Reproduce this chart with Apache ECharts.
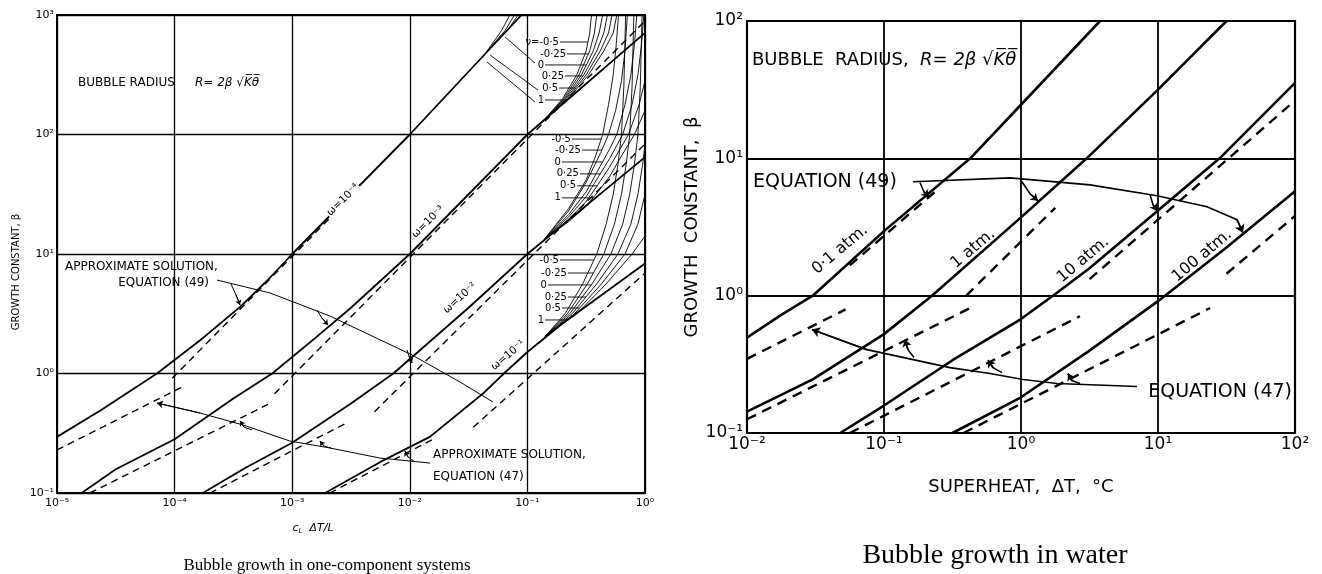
<!DOCTYPE html>
<html>
<head>
<meta charset="utf-8">
<script src="https://cdn.jsdelivr.net/npm/echarts/dist/echarts.min.js"></script>
<style>html,body{margin:0;padding:0;background:#fff}#c{width:1322px;height:574px}</style>
</head>
<body>
<div id="c"></div>
<script>
// ================= LEFT CHART: Bubble growth in one-component systems =================
const leftXTicks = ['10⁻⁵','10⁻⁴','10⁻³','10⁻²','10⁻¹','10⁰'];
const leftYTicks = ['10⁻¹','10⁰','10¹','10²','10³'];
const omegaLabels = ['ω=10⁻⁴','ω=10⁻³','ω=10⁻²','ω=10⁻¹'];
const nuLabels = ['-0·5','-0·25','0','0·25','0·5','1'];

// exact solutions [cL ΔT/L, β]
const mainW4 = [[1e-5,0.295],[2.34e-5,0.49],[7.08e-5,1],[1.66e-4,1.905],[3.63e-4,3.63],[6.17e-4,6.03],[1e-3,10],[1e-2,100],[0.0891,1000]];
const mainW3 = [[1.62e-5,0.1],[3.16e-5,0.158],[1e-4,0.282],[3.16e-4,0.617],[6.76e-4,1],[1.585e-3,1.995],[3.16e-3,3.55],[0.01,10],[0.1,100],[1,708]];
const mainW2 = [[1.74e-4,0.1],[3.98e-4,0.162],[1e-3,0.263],[3.16e-3,0.562],[7.24e-3,1],[0.0316,3.55],[0.1,10],[1,64.6]];
const mainW1 = [[1.905e-3,0.1],[5.62e-3,0.182],[0.0148,0.295],[0.0417,0.676],[0.0631,1],[0.1,1.514],[0.2,2.63],[1,8.32]];

// approximate solution, equation (47)
const eq47W4 = [[1e-5,0.229],[1.175e-4,0.776]];
const eq47W3 = [[1.905e-5,0.1],[6.46e-4,0.562]];
const eq47W2 = [[2.0e-4,0.1],[2.95e-3,0.389]];
const eq47W1 = [[2.09e-3,0.1],[0.0158,0.282]];
// approximate solution, equation (49)
const eq49W4 = [[9.55e-5,0.912],[3.16e-3,30.2]];
const eq49W3 = [[7.08e-4,0.676],[0.282,257],[1,891]];
const eq49W2 = [[5.01e-3,0.479],[1,83.2]];
const eq49W1 = [[0.0347,0.355],[1,6.92]];

// ν fans at high cL ΔT/L
const fanW4 = [
  [[0.0447,490],[0.0603,741],[0.0708,1000]],
  [[0.0447,490],[0.0646,741],[0.0776,1000]],
  [[0.0447,490],[0.0676,741],[0.0832,1000]]
];
const fanW3 = [
  [[0.1413,134.9],[0.1995,199.5],[0.263,316.2],[0.3162,501.2],[0.3388,707.9],[0.3508,1000]],
  [[0.1413,134.9],[0.2042,199.5],[0.2754,316.2],[0.3388,501.2],[0.3715,707.9],[0.389,1000]],
  [[0.1413,134.9],[0.2089,199.5],[0.2884,316.2],[0.3631,501.2],[0.4074,707.9],[0.4365,1000]],
  [[0.1413,134.9],[0.2138,199.5],[0.302,316.2],[0.389,501.2],[0.4467,707.9],[0.4786,1000]],
  [[0.1413,134.9],[0.2188,199.5],[0.3162,316.2],[0.4169,501.2],[0.4898,707.9],[0.5248,1000]],
  [[0.1413,134.9],[0.2239,199.5],[0.3311,316.2],[0.4467,501.2],[0.537,707.9],[0.5754,1000]]
];
const fanW2 = [
  [[0.1413,13.49],[0.2239,23.99],[0.3162,41.69],[0.3802,66.07],[0.4365,100],[0.4898,177.8],[0.537,316.2],[0.5689,562.3],[0.5957,1000]],
  [[0.1413,13.49],[0.2239,22.91],[0.3162,39.81],[0.4169,69.18],[0.4898,100],[0.5623,158.5],[0.631,281.8],[0.6761,501.2],[0.7079,1000]],
  [[0.1413,13.49],[0.2239,21.38],[0.3162,33.11],[0.3981,50.12],[0.5012,75.86],[0.5754,100],[0.6761,177.8],[0.7586,316.2],[0.8128,562.3],[0.8511,1000]],
  [[0.1413,13.49],[0.2239,20.42],[0.3162,30.2],[0.3981,43.65],[0.5012,63.1],[0.6457,100],[0.7762,177.8],[0.871,316.2],[0.9333,562.3],[0.9772,1000]],
  [[0.1413,13.49],[0.2239,19.5],[0.3162,27.54],[0.3981,38.02],[0.5012,53.7],[0.7244,100],[0.8913,177.8],[1,281.8]],
  [[0.1413,13.49],[0.2239,18.62],[0.3162,25.12],[0.3981,33.11],[0.5012,44.67],[0.631,66.07],[0.8128,100],[1,158.5]]
];
const fanW1 = [
  [[0.1413,2.042],[0.2089,3.162],[0.2951,5.623],[0.389,10],[0.4677,17.78],[0.537,31.62],[0.5888,56.23],[0.631,100],[0.661,251],[0.684,1000]],
  [[0.1413,2.042],[0.2188,3.162],[0.3236,5.623],[0.4467,10],[0.5495,17.78],[0.631,31.62],[0.6918,56.23],[0.7413,100],[0.7762,251],[0.8035,1000]],
  [[0.1413,2.042],[0.2291,3.162],[0.3548,5.623],[0.5129,10],[0.6457,17.78],[0.7413,31.62],[0.8128,56.23],[0.871,100],[0.912,251],[0.944,1000]],
  [[0.1413,2.042],[0.2399,3.162],[0.389,5.623],[0.5888,10],[0.7586,17.78],[0.871,31.62],[0.955,56.23],[1.023,100]],
  [[0.1413,2.042],[0.2512,3.162],[0.4266,5.623],[0.6761,10],[0.871,17.78],[1,31.62]],
  [[0.1413,2.042],[0.263,3.162],[0.4677,5.623],[0.7762,10],[1,14.13]]
];
// ν label anchors: [leader start x, leader end x, β]
const nuAnchorW3 = [[0.1892,0.3273,594.3],[0.2173,0.3296,472.1],[0.1413,0.317,382],[0.2089,0.2951,309],[0.1858,0.2582,244.9],[0.1413,0.2188,194.5]];
const nuAnchorW2 = [[0.2393,0.4236,91.6],[0.2911,0.4295,74.1],[0.1968,0.4355,58.9],[0.2799,0.4159,46.8],[0.2642,0.3917,37.2],[0.1968,0.3614,29.5]];
const nuAnchorW1 = [[0.1892,0.3681,8.913],[0.2213,0.3639,6.934],[0.1496,0.3491,5.508],[0.2213,0.3148,4.365],[0.1968,0.278,3.532],[0.1413,0.2218,2.805]];
const nuLeadersW4 = [[[0.0646,654.6],[0.1161,396.3]],[[0.0481,462.4],[0.123,235.5]],[[0.0453,404.6],[0.1161,187.1]]];
// annotation leaders (data coordinates)
const eq49LeaderL = [[2.296e-4,6.053],[6.47e-4,4.721],[2.094e-3,3.027],[0.01045,1.429],[0.02673,0.849],[0.0509,0.578]];
const eq49HooksL = [[[3.6e-4,3.74],[3.33e-4,4.54],[3.02e-4,5.61]],[[2.014e-3,2.547],[1.791e-3,2.911],[1.626e-3,3.396]],[[0.01045,1.225],[9.84e-3,1.4],[9.46e-3,1.574]]];
const eq47LeaderL = [[7.08e-5,0.566],[1.644e-4,0.467],[3.82e-4,0.371],[9.57e-4,0.272],[2.094e-3,0.238],[5.58e-3,0.196],[0.01486,0.178]];
const eq47HooksL = [[[3.6e-4,0.401],[3.89e-4,0.356],[4.55e-4,0.337]],[[1.722e-3,0.272],[1.862e-3,0.247],[2.138e-3,0.238]],[[9.1e-3,0.2244],[9.66e-3,0.2],[0.01086,0.185]]];
const omegaAnchors = [[2.704e-3,28.31],[0.01429,18.54],[0.02673,4.285],[0.06839,1.42]];

// ================= RIGHT CHART: Bubble growth in water =================
const rightXTicks = ['10⁻²','10⁻¹','10⁰','10¹','10²'];
const rightYTicks = ['10⁻¹','10⁰','10¹','10²'];
const pressureLabels = ['0·1 atm.','1 atm.','10 atm.','100 atm.'];
// exact [ΔT °C, β]
const water01 = [[0.01,0.4955],[0.01778,0.7244],[0.0302,1],[0.1,2.951],[0.4266,10],[1,24.55],[3.776,100]];
const water1 = [[0.01,0.1432],[0.0302,0.2455],[0.1,0.5248],[0.2239,1],[1,3.715],[3.02,10],[10,31.62],[31.62,100]];
const water10 = [[0.04786,0.1],[0.1,0.1585],[0.3162,0.3388],[1,0.6761],[1.82,1.047],[3.162,1.585],[10,4.169],[28.18,10],[100,35.48]];
const water100 = [[0.3162,0.1],[1,0.182],[3.162,0.3981],[10,0.912],[31.62,2.239],[100,5.754]];
const wEq47_01 = [[0.01,0.3467],[0.05248,0.7943]];
const wEq47_1 = [[0.01,0.1259],[0.4467,0.8318]];
const wEq47_10 = [[0.05623,0.1],[2.692,0.7079]];
const wEq47_100 = [[0.3802,0.1],[23.99,0.8128]];
const wEq49_01 = [[0.05623,1.66],[0.2512,6.026]];
const wEq49_1 = [[0.3981,1.0],[1.778,4.365]];
const wEq49_10 = [[3.162,1.318],[100,26.3]];
const wEq49_100 = [[31.62,1.445],[100,3.802]];
const pressureAnchors = [[0.04775,2.163],[0.4467,2.2],[2.838,1.828],[20.94,1.954]];
const eq49LeaderR = [[0.163,6.745],[0.8318,7.211],[3.192,6.412],[9.84,5.333],[22.8,4.436],[37.76,3.573],[41.69,2.871]];
const eq49HooksR = [[[0.2128,5.248],[0.1959,5.702],[0.1832,6.637]],[[1.33,4.909],[1.164,5.521],[1.016,6.745]],[[9.84,4.15],[9.2,4.592],[8.75,5.433]]];
const eq47LeaderR = [[0.02979,0.5662],[0.07516,0.4046],[0.3034,0.2992],[0.5943,0.271],[1.035,0.2449],[1.832,0.2291],[7.031,0.2178]];
const eq47HooksR = [[[0.1422,0.4786],[0.1496,0.4046],[0.1656,0.354]],[[0.5741,0.3388],[0.6252,0.2992],[0.7261,0.2754]],[[2.203,0.271],[2.355,0.241],[2.698,0.2291]]];

// ================= build =================
const INK = '#000000';
const FONT = 'DejaVu Sans';
const S = [];
function curve(gi, data, w, dash) {
  S.push({type:'line', xAxisIndex:gi, yAxisIndex:gi, data:data, symbol:'none', showSymbol:false, silent:true,
    animation:false, clip:true, z:3, lineStyle:{color:INK, width:w, type:dash || 'solid'}});
}
function poly(gi, coords, w) {
  S.push({type:'lines', coordinateSystem:'cartesian2d', xAxisIndex:gi, yAxisIndex:gi, polyline:true, silent:true,
    animation:false, z:4, data:[{coords:coords}], lineStyle:{color:INK, width:w, opacity:1}});
}
function arrow(gi, from, to, w, size) {
  S.push({type:'lines', coordinateSystem:'cartesian2d', xAxisIndex:gi, yAxisIndex:gi, silent:true, animation:false, z:4,
    symbol:['none','arrow'], symbolSize:size || 6, data:[{coords:[from,to]}], lineStyle:{color:INK, width:w, opacity:1}});
}
function lab(o) { return Object.assign({color:INK, fontFamily:FONT, opacity:1, textBorderWidth:0}, o); }
function texts(gi, items) {
  S.push({type:'scatter', xAxisIndex:gi, yAxisIndex:gi, symbolSize:0, itemStyle:{color:INK, opacity:1}, silent:true,
    animation:false, z:6, data:items, label:{show:true, formatter:'{b}', color:INK, fontFamily:FONT}});
}

// ---- left
[mainW4, mainW3, mainW2, mainW1].forEach(d => curve(0, d, 1.8));
[eq47W4, eq47W3, eq47W2, eq47W1, eq49W4, eq49W3, eq49W2, eq49W1].forEach(d => curve(0, d, 1.4, [7,5]));
[fanW4, fanW3, fanW2, fanW1].forEach(f => f.forEach(d => curve(0, d, 0.9)));
nuLeadersW4.forEach(c => poly(0, c, 0.9));
const nuItems = [];
[nuAnchorW3, nuAnchorW2, nuAnchorW1].forEach((anc, fi) => {
  anc.forEach((a, k) => {
    poly(0, [[a[0], a[2]], [a[1], a[2]]], 0.9);
    nuItems.push({name: (fi === 0 && k === 0 ? 'ν=' : '') + nuLabels[k], value:[a[0], a[2]],
      label:lab({position:'left', distance:1, fontSize:10})});
  });
});
texts(0, nuItems);
poly(0, eq49LeaderL, 1);
eq49HooksL.forEach(h => { poly(0, h, 1); arrow(0, h[1], h[0], 1, 5); });
poly(0, eq47LeaderL, 1);
arrow(0, eq47LeaderL[1], eq47LeaderL[0], 1, 6);
eq47HooksL.forEach(h => { poly(0, h, 1); arrow(0, h[1], h[0], 1, 5); });
texts(0, [
  {name:'BUBBLE RADIUS', value:[1.51e-5,269.8], label:lab({position:'right', distance:0, fontSize:12})},
  {name:'R= 2β √K\u0305θ\u0305', value:[1.489e-4,269.8], label:lab({position:'right', distance:0, fontSize:12, fontStyle:'italic'})},
  {name:'APPROXIMATE SOLUTION,', value:[1.17e-5,7.78], label:lab({position:'right', distance:0, fontSize:12})},
  {name:'EQUATION (49)', value:[1.963e-4,5.715], label:lab({position:'left', distance:0, fontSize:12})},
  {name:'APPROXIMATE SOLUTION,', value:[0.01574,0.208], label:lab({position:'right', distance:0, fontSize:12})},
  {name:'EQUATION (47)', value:[0.01574,0.1361], label:lab({position:'right', distance:0, fontSize:12})}
].concat(omegaLabels.map((t, i) => ({name:t, value:omegaAnchors[i],
  label:lab({position:'inside', rotate:[45,45,42,40][i], fontSize:10.5, align:'center', verticalAlign:'middle',
    backgroundColor: i === 0 ? '#fff' : 'transparent', padding: i === 0 ? [0,1] : 0})}))));

// ---- right
[water01, water1, water10, water100].forEach(d => curve(1, d, 2.6));
[wEq47_01, wEq47_1, wEq47_10, wEq47_100, wEq49_01, wEq49_1, wEq49_10, wEq49_100].forEach(d => curve(1, d, 2.4, [10,7]));
poly(1, eq49LeaderR, 1.6);
arrow(1, eq49LeaderR[eq49LeaderR.length-2], eq49LeaderR[eq49LeaderR.length-1], 1.6, 8);
eq49HooksR.forEach(h => { poly(1, h, 1.6); arrow(1, h[1], h[0], 1.6, 7); });
poly(1, eq47LeaderR, 1.6);
arrow(1, eq47LeaderR[1], eq47LeaderR[0], 1.6, 8);
eq47HooksR.forEach(h => { poly(1, h, 1.6); arrow(1, h[1], h[0], 1.6, 7); });
texts(1, [
  {name:'BUBBLE  RADIUS,  {i|R= 2β √K\u0305θ\u0305}', value:[0.01088,52.0], label:lab({position:'right', distance:0, fontSize:18,
    rich:{i:{fontSize:18, fontStyle:'italic', color:INK, fontFamily:FONT}}})},
  {name:'EQUATION (49)', value:[0.01107,6.745], label:lab({position:'right', distance:0, fontSize:19})},
  {name:'EQUATION (47)', value:[95.06,0.1972], label:lab({position:'left', distance:0, fontSize:19})}
].concat(pressureLabels.map((t, i) => ({name:t, value:pressureAnchors[i],
  label:lab({position:'inside', rotate:40, fontSize:16, align:'center', verticalAlign:'middle'})}))));

function tickFmt(arr, offset) { return v => arr[Math.round(Math.log10(v)) + offset] || ''; }
function axisBase(gi, min, max, ticks, offset, fs, gridW, margin) {
  return {type:'log', logBase:10, gridIndex:gi, min:min, max:max, splitNumber:5,
    axisLine:{show:false}, axisTick:{show:false},
    splitLine:{show:true, lineStyle:{color:INK, width:gridW}},
    axisLabel:{formatter:tickFmt(ticks, offset), color:INK, fontSize:fs, fontFamily:FONT, margin:margin,
      showMinLabel:true, showMaxLabel:true, hideOverlap:false}};
}
const xL = axisBase(0, 1e-5, 1, leftXTicks, 5, 11, 1.3, 5);
Object.assign(xL, {name:'c{s|L}  ΔT/L', nameLocation:'middle', nameGap:29,
  nameTextStyle:{color:INK, fontFamily:FONT, fontSize:11, fontStyle:'italic', padding:[0,76,0,0],
    rich:{s:{fontSize:7, fontStyle:'italic', color:INK, padding:[6,0,0,0], fontFamily:FONT}}}});
const yL = axisBase(0, 0.1, 1000, leftYTicks, 1, 11, 1.3, 3);
Object.assign(yL, {name:'GROWTH CONSTANT, β', nameLocation:'middle', nameGap:36, nameRotate:90,
  nameTextStyle:{color:INK, fontFamily:FONT, fontSize:10, padding:[0,36,0,0]}});
const xR = axisBase(1, 0.01, 100, rightXTicks, 2, 17, 1.8, 3);
Object.assign(xR, {name:'SUPERHEAT,  ΔT,  °C', nameLocation:'middle', nameGap:45,
  nameTextStyle:{color:INK, fontFamily:FONT, fontSize:18}});
const yR = axisBase(1, 0.1, 100, rightYTicks, 1, 17, 1.8, 4);
Object.assign(yR, {name:'GROWTH  CONSTANT,  β', nameLocation:'middle', nameGap:44, nameRotate:90,
  nameTextStyle:{color:INK, fontFamily:FONT, fontSize:18}});

const chart = echarts.init(document.getElementById('c'), null, {renderer:'canvas'});
chart.setOption({
  backgroundColor:'#fff',
  animation:false,
  textStyle:{fontFamily:FONT, color:INK},
  title:[
    {text:'Bubble growth in one-component systems', left:322, top:552, textAlign:'center',
      textStyle:{fontFamily:'Liberation Serif', fontSize:17, fontWeight:'normal', color:INK}},
    {text:'Bubble growth in water', left:990, top:537, textAlign:'center',
      textStyle:{fontFamily:'Liberation Serif', fontSize:28, fontWeight:'normal', color:INK}}
  ],
  grid:[
    {left:57, top:15, width:588, height:478, show:true, borderColor:INK, borderWidth:2, backgroundColor:'transparent', containLabel:false, outerBoundsMode:'none'},
    {left:747, top:21, width:548, height:412, show:true, borderColor:INK, borderWidth:2.2, backgroundColor:'transparent', containLabel:false, outerBoundsMode:'none'}
  ],
  xAxis:[xL, xR],
  yAxis:[yL, yR],
  series:S
});
</script>
</body>
</html>
